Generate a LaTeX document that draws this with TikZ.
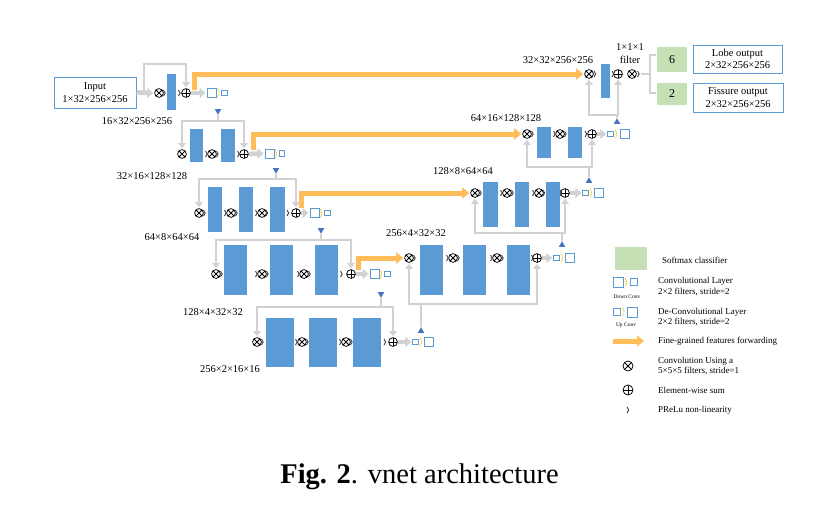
\documentclass[tikz,border=0pt]{standalone}
\usepackage{fontspec}
\setmainfont{Liberation Serif}
\usetikzlibrary{arrows.meta,shapes.geometric,calc}
\definecolor{barblue}{RGB}{91,155,213}
\definecolor{triblue}{RGB}{68,114,196}
\definecolor{fwdorange}{RGB}{255,189,89}
\definecolor{skipgray}{RGB}{210,210,210}
\definecolor{softgreen}{RGB}{197,224,180}
\definecolor{dashyellow}{RGB}{255,192,0}
\tikzset{
  conv/.style={circle,draw,line width=0.75pt,inner sep=0pt,minimum size=8.8pt,
    path picture={\draw[line width=0.75pt] (path picture bounding box.north west)--(path picture bounding box.south east)
      (path picture bounding box.north east)--(path picture bounding box.south west);}},
  esum/.style={circle,draw,line width=0.75pt,inner sep=0pt,minimum size=8.8pt,
    path picture={\draw[line width=0.75pt] (path picture bounding box.north)--(path picture bounding box.south)
      (path picture bounding box.west)--(path picture bounding box.east);}},
  vbar/.style={rectangle,fill=barblue,inner sep=0pt},
  skip/.style={draw=skipgray,line width=2.8pt},
  skiparrow/.style={skip,shorten >=1pt,-{Triangle[width=7.5pt,length=5pt]}},
  garrow/.style={draw=skipgray,line width=4.8pt,shorten >=1pt,-{Triangle[width=10pt,length=6pt]}},
  fwd/.style={draw=fwdorange,line width=5pt,-{Triangle[width=11pt,length=7pt]}},
  bigsq/.style={rectangle,draw=barblue,line width=0.9pt,fill=white,minimum size=9pt,inner sep=0pt},
  smsq/.style={rectangle,draw=barblue,line width=0.8pt,fill=white,minimum size=5.5pt,inner sep=0pt},
  tridown/.style={regular polygon,regular polygon sides=3,shape border rotate=180,fill=triblue,inner sep=0pt,minimum size=7.5pt},
  triup/.style={regular polygon,regular polygon sides=3,fill=triblue,inner sep=0pt,minimum size=7.5pt},
  lbl/.style={font=\fontsize{10.5}{12}\selectfont,inner sep=0pt},
  legtxt/.style={font=\fontsize{9}{10.5}\selectfont,anchor=west,align=left,inner sep=0pt},
  outbox/.style={rectangle,draw=barblue,line width=1pt,fill=white,align=center,inner sep=0pt,font=\fontsize{10.5}{12.5}\selectfont},
  softbox/.style={rectangle,fill=softgreen,inner sep=0pt,font=\fontsize{12}{14}\selectfont},
  prl/.pic={\draw[line width=0.9pt,black!75] (-1,-3) .. controls (1.2,-1.5) and (1.2,1.5) .. (-1,3);},
  ydash/.pic={\draw[dashyellow,line width=0.9pt,dash pattern=on 1.6pt off 1pt] (-0.8,-4) .. controls (1,-2) and (1,2) .. (-0.8,4);}
}
\begin{document}
\begin{tikzpicture}[x=1pt,y=-1pt]
\useasboundingbox (0,0) rectangle (834,506);

% ---------- level 0 (left) ----------
\node[outbox,minimum width=82pt,minimum height=31pt] (input) at (95,92.5) {Input\\1×32×256×256};
\node[conv] (c0) at (159,93) {};
\node[vbar,minimum width=9pt,minimum height=36pt] (b0) at (171.5,92) {};
\node[esum] (s0) at (186,93) {};
\node[bigsq] (d0) at (211.5,93) {};
\pic at (218.5,93) {ydash};
\node[smsq] (d0s) at (224.5,93) {};
\node[tridown] (t1) at (218,111) {};
\pic at (164.5,93) {prl}; \pic at (179.5,93) {prl};
\coordinate (k0) at (144,93);
\draw[garrow] (input.east) -- (c0.west);
\draw[skiparrow] (k0) -- ++(0,-29) -| (s0.north);
\draw[garrow] (s0.east) -- (d0.west);
\node[lbl] (l1) at (137,121) {16×32×256×256};

% ---------- level 1 (left) ----------
\node[conv] (c1) at (182,154) {};
\node[vbar,minimum width=13pt,minimum height=33pt] (b1a) at (196.5,145.5) {};
\node[conv] (c1b) at (212,154) {};
\node[vbar,minimum width=14pt,minimum height=33pt] (b1b) at (228,145.5) {};
\node[esum] (s1) at (244,154) {};
\node[bigsq] (d1) at (269.5,153.5) {};
\pic at (276,153.5) {ydash};
\node[smsq] (d1s) at (282,153.5) {};
\node[tridown] (t2) at (276,170) {};
\pic at (206.5,154) {prl}; \pic at (217.5,154) {prl}; \pic at (238.5,154) {prl};
\coordinate (j1) at (218,121);
\draw[skip] (t1) -- (j1);
\draw[skiparrow] (j1) -| (c1.north);
\draw[skiparrow] (j1) -| (s1.north);
\draw[garrow] (s1.east) -- (d1.west);
\node[lbl] (l2) at (152,176) {32×16×128×128};

% ---------- level 2 (left) ----------
\node[conv] (c2) at (199,213) {};
\node[vbar,minimum width=14pt,minimum height=45pt] (b2a) at (215,209.5) {};
\node[conv] (c2b) at (231,213) {};
\node[vbar,minimum width=14pt,minimum height=45pt] (b2b) at (246,209.5) {};
\node[conv] (c2c) at (262,213) {};
\node[vbar,minimum width=15pt,minimum height=45pt] (b2c) at (277.5,209.5) {};
\node[esum] (s2) at (296,213) {};
\node[bigsq] (d2) at (314.5,213) {};
\pic at (321,213) {ydash};
\node[smsq] (d2s) at (327.5,213) {};
\node[tridown] (t3) at (321,230) {};
\pic at (204.5,213) {prl}; \pic at (225.5,213) {prl}; \pic at (236.5,213) {prl};
\pic at (256.5,213) {prl}; \pic at (267,213) {prl}; \pic at (288,213) {prl};
\coordinate (j2) at (276,179);
\draw[skip] (t2) -- (j2);
\draw[skiparrow] (j2) -| (c2.north);
\draw[skiparrow] (j2) -| (s2.north);
\draw[garrow] (s2.east) -- (d2.west);
\node[lbl] (l3) at (172,237) {64×8×64×64};

% ---------- level 3 (left) ----------
\node[conv] (c3) at (216,274) {};
\node[vbar,minimum width=23pt,minimum height=50pt] (b3a) at (235.5,270) {};
\node[conv] (c3b) at (262,274) {};
\node[vbar,minimum width=23pt,minimum height=50pt] (b3b) at (281.5,270) {};
\node[conv] (c3c) at (304,274) {};
\node[vbar,minimum width=23pt,minimum height=50pt] (b3c) at (326.5,270) {};
\node[esum] (s3) at (351,274) {};
\node[bigsq] (d3) at (374.5,274) {};
\pic at (381,274) {ydash};
\node[smsq] (d3s) at (387.5,274) {};
\node[tridown] (t4) at (381,294) {};
\pic at (221.5,274) {prl}; \pic at (256.5,274) {prl}; \pic at (267.5,274) {prl};
\pic at (298.5,274) {prl}; \pic at (309.5,274) {prl}; \pic at (341.5,274) {prl};
\coordinate (j3) at (321,240);
\draw[skip] (t3) -- (j3);
\draw[skiparrow] (j3) -| (c3.north);
\draw[skiparrow] (j3) -| (s3.north);
\draw[garrow] (s3.east) -- (d3.west);
\node[lbl] (l4) at (213,312) {128×4×32×32};

% ---------- level 4 (bottom) ----------
\node[conv] (c4) at (257,342) {};
\node[vbar,minimum width=28pt,minimum height=49pt] (b4a) at (280,342.5) {};
\node[conv] (c4b) at (302,342) {};
\node[vbar,minimum width=28pt,minimum height=49pt] (b4b) at (323,342.5) {};
\node[conv] (c4c) at (346,342) {};
\node[vbar,minimum width=28pt,minimum height=49pt] (b4c) at (367,342.5) {};
\node[esum] (s4) at (393,342) {};
\node[smsq] (u4s) at (415.5,342) {};
\pic at (421,342) {ydash};
\node[bigsq] (u4) at (429,342) {};
\node[triup] (ta4) at (421,331) {};
\pic at (262.5,342) {prl}; \pic at (296.5,342) {prl}; \pic at (307.5,342) {prl};
\pic at (340.5,342) {prl}; \pic at (351.5,342) {prl}; \pic at (385,342) {prl};
\coordinate (j4) at (381,307);
\draw[skip] (t4) -- (j4);
\draw[skiparrow] (j4) -| (c4.north);
\draw[skiparrow] (j4) -| (s4.north);
\draw[garrow] (s4.east) -- (u4s.west);
\node[lbl] (l5) at (230,369) {256×2×16×16};

% ---------- level 3 (right) ----------
\node[conv] (c8) at (409,258) {};
\node[vbar,minimum width=23pt,minimum height=50pt] (b8a) at (431.5,270) {};
\node[conv] (c8b) at (453,258) {};
\node[vbar,minimum width=23pt,minimum height=50pt] (b8b) at (474.5,270) {};
\node[conv] (c8c) at (497,258) {};
\node[vbar,minimum width=23pt,minimum height=50pt] (b8c) at (518.5,270) {};
\node[esum] (s8) at (537,258) {};
\node[smsq] (u8s) at (556.5,258) {};
\pic at (562,258) {ydash};
\node[bigsq] (u8) at (570,258) {};
\node[triup] (ta8) at (562,245) {};
\pic at (414.5,258) {prl}; \pic at (447.5,258) {prl}; \pic at (458.5,258) {prl};
\pic at (491.5,258) {prl}; \pic at (502.5,258) {prl}; \pic at (532.5,258) {prl};
\coordinate (j8) at (421,304);
\draw[skip] (ta4) -- (j8);
\draw[skiparrow] (j8) -| (c8.south);
\draw[skiparrow] (j8) -| (s8.south);
\draw[garrow] (s8.east) -- (u8s.west);
\node[lbl] (l6) at (416,233) {256×4×32×32};

% ---------- level 2 (right) ----------
\node[conv] (c7) at (475,193) {};
\node[vbar,minimum width=15pt,minimum height=45pt] (b7a) at (490.5,204.5) {};
\node[conv] (c7b) at (507,193) {};
\node[vbar,minimum width=14pt,minimum height=45pt] (b7b) at (522,204.5) {};
\node[conv] (c7c) at (539,193) {};
\node[vbar,minimum width=14pt,minimum height=45pt] (b7c) at (553,204.5) {};
\node[esum] (s7) at (565,193) {};
\node[smsq] (u7s) at (585.5,193) {};
\pic at (591,193) {ydash};
\node[bigsq] (u7) at (598.5,193) {};
\node[triup] (ta7) at (589,181) {};
\pic at (480.5,193) {prl}; \pic at (501.5,193) {prl}; \pic at (512.5,193) {prl};
\pic at (533.5,193) {prl}; \pic at (544,193) {prl}; \pic at (561,193) {prl};
\coordinate (j7) at (562,233);
\draw[skip] (ta8) -- (j7);
\draw[skiparrow] (j7) -| (c7.south);
\draw[skiparrow] (j7) -| (s7.south);
\draw[garrow] (s7.east) -- (u7s.west);
\node[lbl] (l7) at (463,171) {128×8×64×64};

% ---------- level 1 (right) ----------
\node[conv] (c6) at (527,134) {};
\node[vbar,minimum width=14pt,minimum height=31pt] (b6a) at (544,142.5) {};
\node[conv] (c6b) at (560,134) {};
\node[vbar,minimum width=14pt,minimum height=31pt] (b6b) at (575,142.5) {};
\node[esum] (s6) at (592,134) {};
\node[smsq] (u6s) at (610.5,134) {};
\pic at (616,134) {ydash};
\node[bigsq] (u6) at (624.5,134) {};
\node[triup] (ta6) at (617,122) {};
\pic at (532.5,134) {prl}; \pic at (554.5,134) {prl}; \pic at (565.5,134) {prl}; \pic at (586,134) {prl};
\coordinate (j6) at (589,167);
\draw[skip] (ta7) -- (j6);
\draw[skiparrow] (j6) -| (c6.south);
\draw[skiparrow] (j6) -| (s6.south);
\draw[garrow] (s6.east) -- (u6s.west);
\node[lbl] (l8) at (506,118) {64×16×128×128};

% ---------- level 0 (right) ----------
\node[conv] (c5) at (589,74) {};
\node[vbar,minimum width=9pt,minimum height=34pt] (b5) at (605.5,81) {};
\node[esum] (s5) at (618,74) {};
\node[conv] (c5b) at (632,74) {};
\pic at (595,74) {prl}; \pic at (613,74) {prl}; \pic at (638.5,74) {prl};
\coordinate (j5) at (617,115);
\draw[skip] (ta6) -- (j5);
\draw[skiparrow] (j5) -| (c5.south);
\draw[skiparrow] (j5) -| (s5.south);
\node[lbl] (l9) at (558,60) {32×32×256×256};
\node[lbl,align=center] (flt) at (630,54) {1×1×1\\[1pt]filter};

% outputs
\node[softbox,minimum width=30pt,minimum height=25pt] (g6) at (672,59.5) {6};
\node[softbox,minimum width=30pt,minimum height=22pt] (g2) at (672,94) {2};
\node[outbox,minimum width=89pt,minimum height=28pt] (lobe) at (737.5,59) {Lobe output\\2×32×256×256};
\node[outbox,minimum width=90pt,minimum height=29pt] (fiss) at (738,97.5) {Fissure output\\2×32×256×256};
\coordinate (q0) at (641,74);
\coordinate (q1) at (650,74);
\coordinate (bt) at (656,55);
\coordinate (bb) at (656,93);
\draw[skip,line width=2pt] (q0) -- (q1);
\draw[skip,line width=2pt] (bt) -| (q1) |- (bb);

% ---------- forwarding arrows ----------
\coordinate (o0) at (194,90);
\draw[fwd] (o0) |- ([xshift=-1pt]c5.west);
\coordinate (o1) at (253,150);
\draw[fwd] (o1) |- ([xshift=-1pt]c6.west);
\coordinate (o2) at (301,208);
\draw[fwd] (o2) |- ([xshift=-1pt]c7.west);
\coordinate (o3) at (358,270);
\draw[fwd] (o3) |- ([xshift=-1pt]c8.west);

% ---------- legend ----------
\node[softbox,minimum width=32pt,minimum height=23pt] (lg) at (631,258.5) {};
\node[legtxt] (lgt) at (662,260) {Softmax classifier};
\node[bigsq,minimum size=10pt] (ld) at (618,282) {};
\pic at (626,282) {ydash};
\node[smsq,minimum size=7pt] (lds) at (633.5,282) {};
\node[font=\fontsize{5.5}{6}\selectfont,inner sep=0pt] (ldt) at (627,297) {Down Conv};
\node[legtxt] (ldx) at (658,286.5) {Convolutional Layer\\2×2 filters, stride=2};
\node[smsq,minimum size=7pt] (lus) at (617,312) {};
\pic at (623.5,312) {ydash};
\node[bigsq,minimum size=10pt] (lu) at (632.5,312) {};
\node[font=\fontsize{5.5}{6}\selectfont,inner sep=0pt] (lut) at (626,325) {Up Conv};
\node[legtxt] (lux) at (658,317) {De-Convolutional Layer\\2×2 filters, stride=2};
\coordinate (la0) at (613,341);
\coordinate (la1) at (644,341);
\draw[fwd] (la0) -- (la1);
\node[legtxt] (lfx) at (658,341) {Fine-grained features forwarding};
\node[conv,minimum size=10pt] (lc) at (628,366) {};
\node[legtxt] (lcx) at (658,366) {Convolution Using a\\5×5×5 filters, stride=1};
\node[esum,minimum size=10pt] (ls) at (628,390) {};
\node[legtxt] (lsx) at (658,390) {Element-wise sum};
\pic at (628,410) {prl};
\node[legtxt] (lpx) at (658,410) {PReLu non-linearity};

% ---------- caption ----------
\node[font=\fontsize{28.5}{32}\selectfont,inner sep=0pt] (cap) at (419.5,477) {\textbf{Fig. 2}.\hspace{0.35em}vnet architecture};
\end{tikzpicture}
\end{document}
